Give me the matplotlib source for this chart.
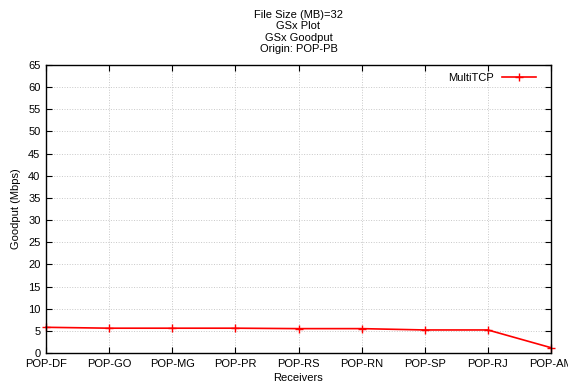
import matplotlib
matplotlib.use("Agg")
import matplotlib.pyplot as plt

receivers = ["POP-DF", "POP-GO", "POP-MG", "POP-PR", "POP-RS",
             "POP-RN", "POP-SP", "POP-RJ", "POP-AM"]
goodput = [5.8, 5.6, 5.6, 5.6, 5.5, 5.5, 5.2, 5.2, 1.2]
yticks = list(range(0, 66, 5))

plt.rcParams['font.family'] = ['Liberation Sans', 'DejaVu Sans']
plt.rcParams['font.size'] = 8

fig = plt.figure(figsize=(5.68, 3.83), dpi=100)
ax = fig.add_axes([46 / 568, 1 - 353 / 383, (551 - 46) / 568, (353 - 65) / 383])

x = list(range(len(receivers)))
ax.plot(x, goodput, color='red', marker='+', markersize=6, linewidth=1.2,
        label='MultiTCP', clip_on=False)

ax.set_xlim(0, len(receivers) - 1)
ax.set_ylim(0, 65)
ax.set_xticks(x)
ax.set_xticklabels(receivers)
ax.set_yticks(yticks)
ax.grid(True, color='#c8c8c8', linestyle=':', linewidth=0.7)
ax.tick_params(direction='in', top=True, right=True, length=4, width=0.8, pad=4)
for s in ax.spines.values():
    s.set_linewidth(1.0)

ax.set_xlabel('Receivers', labelpad=3)
ax.set_ylabel('Goodput (Mbps)', labelpad=5)
ax.set_title('File Size (MB)=32\nGSx Plot\nGSx Goodput\nOrigin: POP-PB',
             fontsize=8, linespacing=1.2, pad=9)

leg = ax.legend(loc='upper right', frameon=False, markerfirst=False,
                handlelength=3, borderaxespad=0.3, bbox_to_anchor=(0.985, 1.0))

fig.savefig('out.png', dpi=100)
